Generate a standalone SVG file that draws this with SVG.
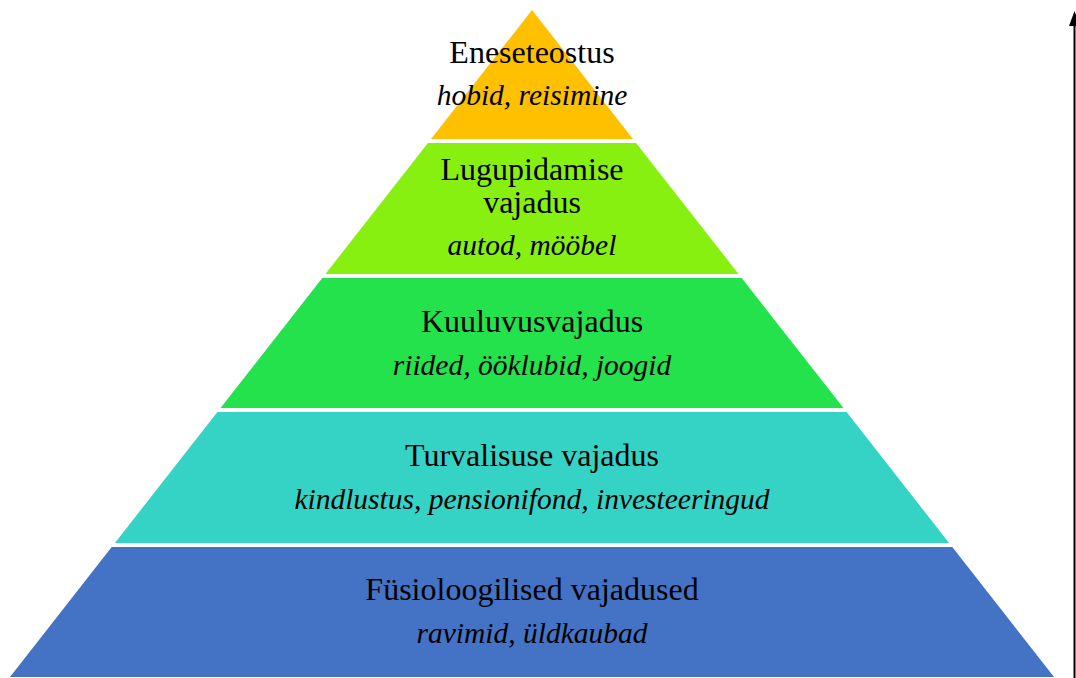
<svg xmlns="http://www.w3.org/2000/svg" width="1076" height="678" viewBox="0 0 1076 678">
<defs>
<style>
.t{font-family:"Liberation Serif","Times New Roman",serif;font-size:32px;fill:#000;text-anchor:middle}
.i{font-style:italic;font-size:29.5px}
</style>
</defs>
<rect width="1076" height="678" fill="#fff"/>
<g id="level5">
<polygon points="111.7,547 952.3,547 1054,677 10,677" fill="#4472C4"/>
<text class="t" x="532" y="600">Füsioloogilised vajadused</text>
<text class="t i" x="532" y="643">ravimid, üldkaubad</text>
</g>
<g id="level4">
<polygon points="217.4,412 846.6,412 949.1,543 114.9,543" fill="#35D3C5"/>
<text class="t" x="532" y="466">Turvalisuse vajadus</text>
<text class="t i" x="532" y="509">kindlustus, pensionifond, investeeringud</text>
</g>
<g id="level3">
<polygon points="322.3,278 741.7,278 843.5,408 220.5,408" fill="#23E24C"/>
<text class="t" x="532" y="332">Kuuluvusvajadus</text>
<text class="t i" x="532" y="375">riided, ööklubid, joogid</text>
</g>
<g id="level2">
<polygon points="427.9,143 636.1,143 738.6,274 325.4,274" fill="#88F011"/>
<text class="t" x="532" y="180">Lugupidamise</text>
<text class="t" x="532" y="213">vajadus</text>
<text class="t i" x="532" y="255">autod, mööbel</text>
</g>
<g id="level1">
<polygon points="532,10 633,139 431,139" fill="#FFC000"/>
<text class="t" x="532" y="63">Eneseteostus</text>
<text class="t i" x="532" y="105">hobid, reisimine</text>
</g>
<g id="connectors">
<line x1="1074.5" y1="678" x2="1074.5" y2="22" stroke="#000" stroke-width="2"/>
<polygon points="1074.5,11 1069,26 1080,26" fill="#000"/>
</g>
</svg>
